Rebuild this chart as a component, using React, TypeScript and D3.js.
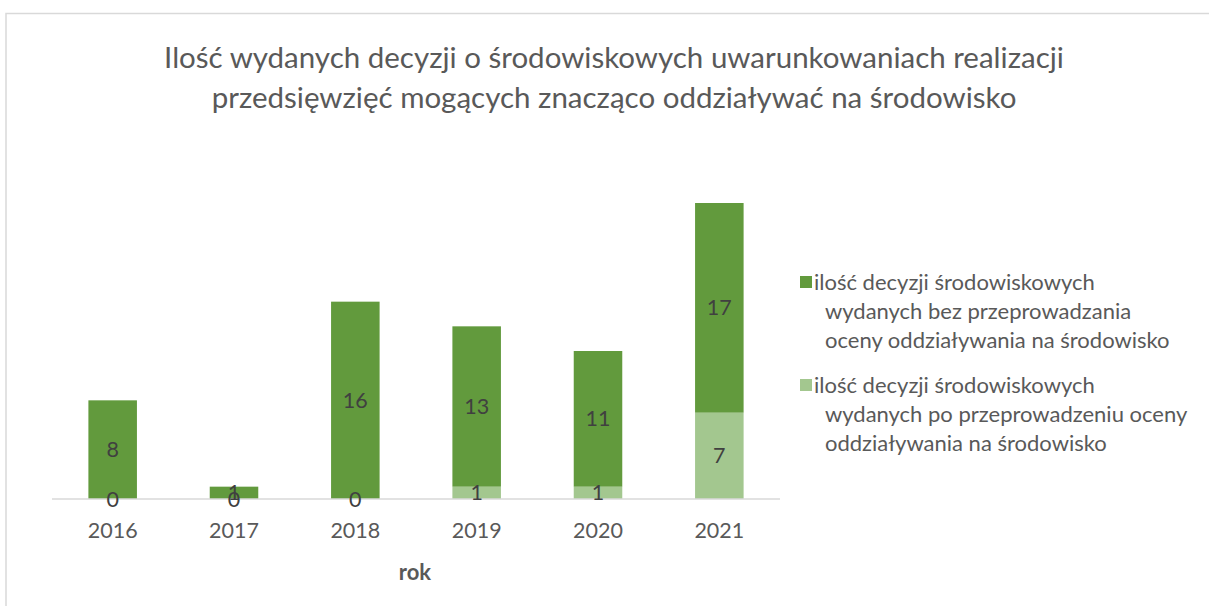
import React from "react";
import * as d3 from "d3";

const years = ["2016", "2017", "2018", "2019", "2020", "2021"];
const poOcenie = [0, 0, 0, 1, 1, 7];
const bezOceny = [8, 1, 16, 13, 11, 17];

const titleLines = [
  "Ilość wydanych decyzji o środowiskowych uwarunkowaniach realizacji",
  "przedsięwzięć mogących znacząco oddziaływać na środowisko",
];
const legendBez = ["ilość decyzji środowiskowych", "wydanych bez przeprowadzania", "oceny oddziaływania na środowisko"];
const legendPo = ["ilość decyzji środowiskowych", "wydanych po przeprowadzeniu oceny", "oddziaływania na środowisko"];

const W = 1209;
const H = 606;
const font = "Lato, 'Open Sans', sans-serif";
const textColor = "#595959";
const labelColor = "#404040";
const dark = "#629a3d";
const light = "#a3c78f";

export default function App() {
  const x = d3.scaleBand().domain(years).range([52, 780]).paddingInner(0.6).paddingOuter(0.3);
  const y = d3.scaleLinear().domain([0, 24]).range([499, 203]);

  const stack = d3
    .stack<number>()
    .keys(["po", "bez"])
    .value((i, key) => (key === "po" ? poOcenie[i] : bezOceny[i]));
  const series = stack(d3.range(years.length));
  const colors = [light, dark];

  return (
    <svg width={W} height={H} style={{ position: "absolute", left: 0, top: 0, background: "#fff" }}>
      <rect x={6} y={13.5} width={W} height={H} fill="#fff" stroke="#d9d9d9" strokeWidth={1.5} />
      {titleLines.map((t, i) => (
        <text key={i} x={614} y={68 + i * 40} textAnchor="middle" fontFamily={font} fontSize={29.5} fill={textColor}>
          {t}
        </text>
      ))}
      {series.map((s, si) =>
        s.map((d, i) => (
          <rect
            key={`${si}-${i}`}
            x={x(years[i])}
            width={x.bandwidth()}
            y={y(d[1])}
            height={y(d[0]) - y(d[1])}
            fill={colors[si]}
          />
        ))
      )}
      <line x1={52} x2={780} y1={y(0)} y2={y(0)} stroke="#d9d9d9" strokeWidth={1.5} />
      {series.map((s, si) =>
        s.map((d, i) => {
          const v = d[1] - d[0];
          return (
            <text
              key={`l${si}-${i}`}
              x={(x(years[i]) || 0) + x.bandwidth() / 2}
              y={(y(d[0]) + y(d[1])) / 2}
              dy="0.35em"
              textAnchor="middle"
              fontFamily={font}
              fontSize={21.5}
              fill={labelColor}
            >
              {v}
            </text>
          );
        })
      )}
      {years.map((yr) => (
        <text
          key={yr}
          x={(x(yr) || 0) + x.bandwidth() / 2}
          y={538}
          textAnchor="middle"
          fontFamily={font}
          fontSize={21.5}
          fill={textColor}
        >
          {yr}
        </text>
      ))}
      <text x={415} y={580} textAnchor="middle" fontFamily={font} fontSize={22} fontWeight="bold" fill={textColor}>
        rok
      </text>
      {[
        { lines: legendBez, color: dark, y0: 282 },
        { lines: legendPo, color: light, y0: 385 },
      ].map((e, k) => (
        <g key={k}>
          <rect x={800} y={e.y0 - 6} width={12} height={12} fill={e.color} />
          {e.lines.map((l, j) => (
            <text
              key={j}
              x={j === 0 ? 814 : 825}
              y={e.y0 + j * 29}
              dy="0.35em"
              fontFamily={font}
              fontSize={22}
              fill={textColor}
            >
              {l}
            </text>
          ))}
        </g>
      ))}
    </svg>
  );
}
